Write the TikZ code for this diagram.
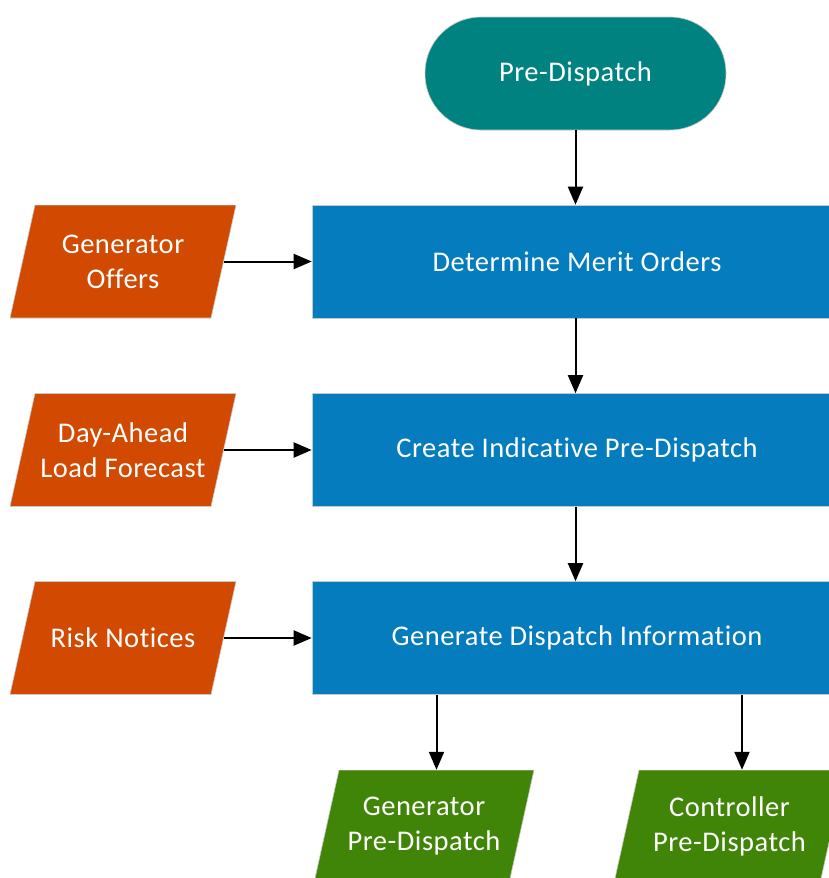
\documentclass[tikz,border=0pt]{standalone}
\usepackage{fontspec}
\setmainfont{Carlito}[Ligatures=NoCommon, LetterSpace=1.8]
\usetikzlibrary{arrows.meta}
\definecolor{tealc}{RGB}{0,130,128}
\definecolor{bluec}{RGB}{5,124,190}
\definecolor{orangec}{RGB}{210,74,1}
\definecolor{greenc}{RGB}{64,133,7}
\definecolor{edgec}{RGB}{200,200,200}
\begin{document}
\begin{tikzpicture}[x=1pt,y=-1pt,
  font=\fontsize{28.5}{35}\selectfont,
  every node/.style={text=white, align=center, inner sep=0pt},
  term/.style={rectangle, rounded corners=56pt, fill=tealc, draw=edgec, line width=0.6pt, minimum width=301pt, minimum height=113pt},
  procbox/.style={rectangle, fill=bluec, draw=edgec, line width=0.6pt, minimum width=530pt, minimum height=113pt},
  para/.style={minimum height=113pt, path picture={
    \fill[#1, draw=edgec, line width=0.6pt] ([xshift=25pt]path picture bounding box.north west) -- (path picture bounding box.north east) -- ([xshift=-25pt]path picture bounding box.south east) -- (path picture bounding box.south west) -- cycle;}},
  arr/.style={-{Triangle[width=15pt,length=18pt]}, line width=2pt, black}
]
\useasboundingbox (0,0) rectangle (829,878);
\clip (0,0) rectangle (829,878);
\fill[white] (0,0) rectangle (829,878);

\node[term] (t) at (575.5,73.5) {\raisebox{-1.5pt}{Pre-Dispatch}};
\node[procbox] (b1) at (577,261.5) {Determine Merit Orders};
\node[procbox] (b2) at (577,450) {\raisebox{-1.5pt}{Create Indicative Pre-Dispatch}};
\node[procbox] (b3) at (577,638) {\raisebox{-1.5pt}{Generate Dispatch Information}};

\node[para=orangec, minimum width=226pt] (o1) at (123,261.5) {Generator\\Offers};
\node[para=orangec, minimum width=226pt] (o2) at (123,450) {Day-Ahead\\Load Forecast};
\node[para=orangec, minimum width=226pt] (o3) at (123,638) {Risk Notices};

\node[para=greenc, minimum width=220pt] (g1) at (424,826.5) {Generator\\Pre-Dispatch};
\node[para=greenc, minimum width=231pt] (g2) at (729.5,826.5) {Controller\\Pre-Dispatch};

\coordinate (g1t) at ([xshift=12.5pt]g1.north);
\coordinate (g2t) at ([xshift=12.5pt]g2.north);

\draw[arr] (t.south) -- (b1.north -| t.south);
\draw[arr] (b1.south -| t.south) -- (b2.north -| t.south);
\draw[arr] (b2.south -| t.south) -- (b3.north -| t.south);
\draw[arr] ([xshift=-12.5pt]o1.east) -- (b1.west);
\draw[arr] ([xshift=-12.5pt]o2.east) -- (b2.west);
\draw[arr] ([xshift=-12.5pt]o3.east) -- (b3.west);
\draw[arr] (b3.south -| g1t) -- (g1t);
\draw[arr] (b3.south -| g2t) -- (g2t);
\end{tikzpicture}
\end{document}
